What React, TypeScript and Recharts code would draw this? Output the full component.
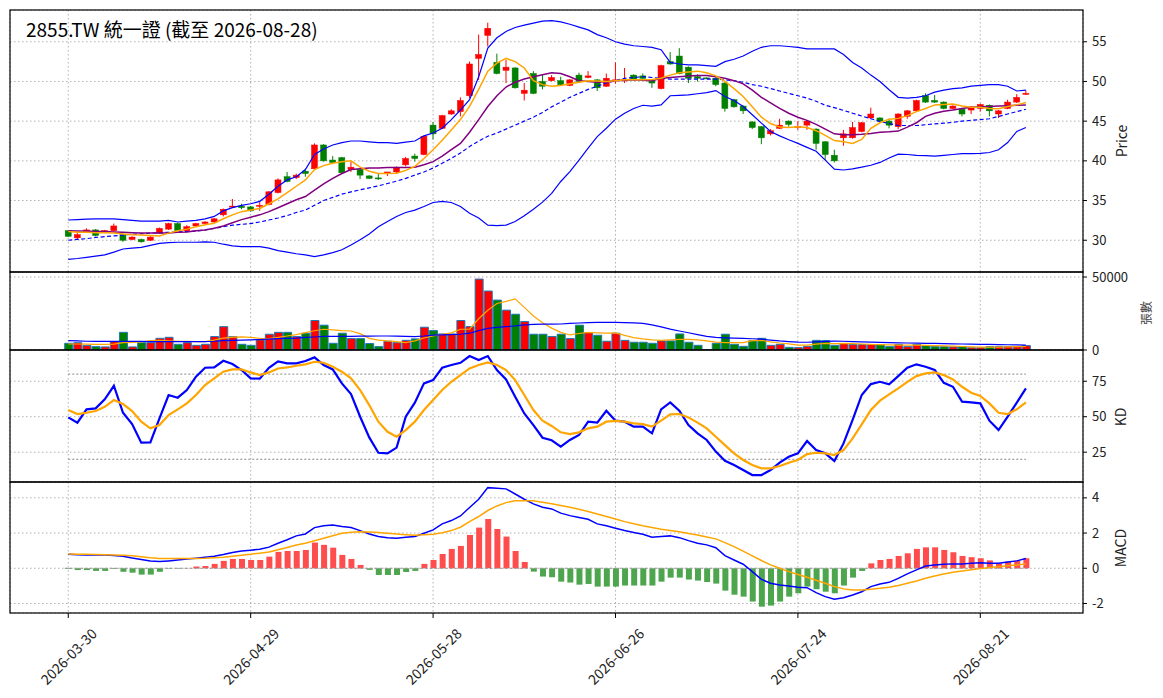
import React from "react";
import {
  ComposedChart,
  Bar,
  Line,
  XAxis,
  YAxis,
  CartesianGrid,
  Cell,
  ReferenceLine,
} from "recharts";

// tick labels on the shared date axis (bar index -> date)
const TICK_POS = [0, 20, 40, 60, 80, 100];
const DATE_LABELS = ["2026-03-30", "2026-04-29", "2026-05-28", "2026-06-26", "2026-07-24", "2026-08-21"];

// daily candles
const OPEN = [
  31.2, 30.3, 31.1, 31.3, 31.0, 31.2, 30.7, 30.1, 30.1, 30.0,
  30.9, 31.4, 32.1, 31.2, 31.8, 32.1, 32.3, 33.2, 34.2, 34.3,
  34.2, 34.3, 34.5, 36.0, 38.0, 37.9, 38.7, 39.0, 42.0, 40.1,
  40.4, 38.9, 38.9, 38.1, 37.85, 38.4, 38.6, 39.5, 40.6, 40.8,
  44.5, 44.1, 45.9, 46.2, 48.2, 52.9, 55.8, 52.4, 51.4, 51.7,
  48.5, 51.0, 50.0, 50.1, 50.1, 49.5, 50.8, 50.5, 50.2, 49.4,
  50.1, 50.1, 50.8, 50.7, 50.2, 49.1, 52.5, 53.2, 51.8, 50.6,
  50.45, 50.4, 49.8, 47.7, 46.9, 44.9, 44.3, 43.4, 44.1, 45.0,
  44.2, 44.5, 44.0, 42.4, 40.7, 42.9, 42.9, 43.7, 45.4, 45.4,
  45.0, 44.3, 45.6, 46.3, 48.2, 47.6, 47.4, 46.6, 46.5, 46.4,
  46.6, 47.0, 45.9, 46.6, 47.4, 48.4,
];
const HIGH = [
  31.3, 30.9, 31.5, 31.4, 31.3, 32.1, 30.8, 30.5, 30.2, 30.5,
  31.6, 32.2, 32.2, 31.9, 32.2, 32.4, 32.8, 34.0, 35.2, 34.6,
  34.3, 34.8, 36.2, 37.8, 38.6, 38.4, 39.0, 42.2, 42.1, 40.6,
  40.5, 39.9, 39.0, 38.2, 38.4, 38.6, 39.3, 40.5, 40.9, 43.2,
  44.9, 45.8, 46.5, 48.0, 52.5, 55.9, 57.4, 53.5, 52.7, 51.8,
  49.8, 51.3, 50.8, 50.8, 50.6, 50.3, 51.1, 51.3, 50.3, 51.0,
  52.4, 51.7, 50.9, 51.0, 50.3, 52.1, 53.7, 54.2, 51.9, 50.9,
  50.5, 50.5, 49.9, 47.8, 47.0, 45.0, 44.4, 44.0, 45.3, 45.1,
  45.0, 45.1, 44.1, 42.5, 41.4, 43.9, 44.9, 44.9, 46.7, 45.5,
  45.3, 46.0, 46.4, 47.7, 48.5, 48.3, 47.5, 47.0, 46.6, 46.9,
  47.2, 47.1, 46.4, 47.7, 48.4, 48.9,
];
const LOW = [
  30.4, 30.1, 31.0, 30.5, 30.9, 31.1, 29.8, 30.0, 29.7, 29.9,
  30.8, 31.3, 31.1, 31.0, 31.7, 32.0, 32.2, 33.0, 34.1, 33.9,
  33.6, 33.7, 34.4, 35.9, 37.3, 37.7, 38.0, 38.9, 39.9, 39.6,
  38.4, 38.6, 37.7, 37.7, 37.6, 38.1, 38.4, 39.3, 39.9, 40.7,
  42.7, 44.0, 45.8, 45.6, 47.9, 50.2, 54.4, 50.9, 49.8, 49.1,
  47.6, 48.4, 49.0, 50.0, 49.5, 49.4, 49.9, 50.4, 48.8, 49.3,
  49.7, 49.8, 50.1, 50.2, 49.2, 49.0, 52.1, 50.9, 49.8, 50.0,
  50.35, 49.4, 46.2, 46.7, 45.9, 44.0, 42.1, 43.2, 44.0, 44.3,
  43.9, 43.9, 41.4, 40.1, 39.8, 41.9, 42.8, 43.6, 45.3, 44.9,
  44.1, 44.0, 45.3, 46.2, 47.3, 47.3, 46.5, 46.5, 45.6, 45.9,
  46.2, 45.6, 45.4, 46.5, 47.3, 48.3,
];
const CLOSE = [
  30.5, 30.7, 31.3, 30.6, 31.2, 31.8, 30.0, 30.4, 29.8, 30.4,
  31.5, 32.1, 31.2, 31.7, 32.1, 32.3, 32.7, 33.9, 34.3, 34.1,
  33.7, 34.4, 36.1, 37.6, 37.4, 38.2, 38.4, 42.0, 40.0, 39.8,
  38.5, 39.2, 38.2, 37.8, 37.8, 38.6, 39.1, 40.3, 40.3, 43.1,
  43.4, 45.7, 46.3, 47.6, 52.2, 53.4, 56.7, 51.0, 51.8, 49.2,
  48.9, 48.5, 49.4, 50.5, 49.6, 50.2, 50.0, 50.7, 49.2, 50.4,
  50.2, 50.2, 50.2, 50.4, 49.8, 52.0, 52.2, 51.0, 50.4, 50.4,
  50.4, 49.6, 46.6, 46.8, 46.3, 44.2, 42.9, 43.8, 44.5, 44.6,
  44.3, 45.0, 42.2, 40.8, 40.0, 43.4, 44.2, 44.8, 45.9, 45.0,
  44.5, 45.9, 46.3, 47.6, 47.4, 47.4, 46.6, 46.9, 45.9, 46.8,
  47.1, 46.3, 46.3, 47.4, 48.0, 48.5,
];

// moving averages and Bollinger bands
const MA5 = [
  31.1, 31.0, 31.0, 30.95, 30.95, 30.9, 30.8, 30.7, 30.65, 30.6,
  30.55, 30.9, 31.2, 31.4, 31.7, 31.95, 32.15, 32.7, 33.2, 33.6,
  33.8, 34.0, 34.6, 35.2, 36.0, 36.8, 37.6, 38.9, 39.4, 39.7,
  39.9, 40.0, 39.2, 38.7, 38.4, 38.4, 38.45, 38.8, 39.3, 40.3,
  41.4, 42.6, 43.9, 45.2, 46.85, 49.0, 51.3, 52.3, 52.9, 52.5,
  51.7, 50.1, 49.6, 49.4, 49.5, 49.7, 49.9, 50.1, 50.05, 50.0,
  50.1, 50.2, 50.2, 50.2, 50.25, 50.4, 50.8, 51.1, 51.2, 51.3,
  51.1, 50.7, 50.0, 49.1, 48.1, 46.8, 45.5, 44.7, 44.25, 44.2,
  44.3, 44.2, 43.8, 43.2, 42.55, 42.4, 42.2, 42.7, 44.1, 44.8,
  45.25, 45.35, 45.7, 46.2, 46.6, 47.05, 47.1, 47.15, 46.9, 46.75,
  46.75, 46.6, 46.55, 46.85, 47.05, 47.35,
];
const MA10 = [
  31.2, 31.15, 31.15, 31.1, 31.1, 31.05, 31.0, 30.95, 30.9, 30.9,
  30.9, 30.9, 31.0, 31.05, 31.2, 31.3, 31.5, 31.8, 32.2, 32.6,
  32.9, 33.2, 33.6, 34.1, 34.6, 35.1, 35.5, 36.3, 37.1, 37.8,
  38.4, 38.9, 39.0, 39.1, 39.1, 39.15, 39.15, 39.15, 39.2, 39.5,
  39.9, 40.6, 41.4, 42.2, 43.6, 45.2, 46.85, 48.2, 49.3, 49.9,
  50.3, 50.6, 50.85, 51.1, 51.0, 50.6, 50.1, 50.0, 49.9, 50.0,
  50.1, 50.15, 50.2, 50.15, 50.1, 50.4, 50.5, 50.6, 50.7, 50.75,
  50.75, 50.6, 50.4, 50.1, 49.7, 48.9, 48.0, 47.3, 46.6, 46.0,
  45.5, 45.1, 44.6, 44.0, 43.4, 43.3, 43.3, 43.35, 43.45, 43.6,
  43.65, 43.75, 44.25, 44.8, 45.6, 46.0, 46.25, 46.4, 46.6, 46.75,
  46.8, 46.85, 46.9, 46.95, 47.0, 47.05,
];
const MA20 = [
  30.0, 30.1, 30.2, 30.35, 30.45, 30.55, 30.65, 30.75, 30.8, 30.9,
  30.95, 31.0, 31.05, 31.1, 31.15, 31.3, 31.5, 31.7, 31.9, 32.0,
  32.1, 32.3, 32.55, 32.8, 33.1, 33.5, 33.8, 34.4, 35.0, 35.4,
  35.8, 36.1, 36.35, 36.6, 36.85, 37.15, 37.45, 37.8, 38.2, 38.6,
  39.1, 39.7, 40.3, 41.0, 41.8, 42.5, 43.1, 43.5, 44.0, 44.5,
  45.0, 45.5, 46.1, 46.8, 47.4, 48.0, 48.5, 49.0, 49.4, 49.8,
  50.1, 50.4, 50.5, 50.6, 50.5, 50.4, 50.3, 50.3, 50.3, 50.3,
  50.3, 50.3, 50.2, 50.1, 49.9, 49.6, 49.4, 49.1, 48.8, 48.5,
  48.2, 47.9, 47.5, 47.0, 46.7, 46.35, 46.0, 45.65, 45.3, 44.95,
  44.7, 44.45, 44.45, 44.45, 44.55, 44.65, 44.75, 44.85, 45.0, 45.1,
  45.2, 45.3, 45.6, 45.9, 46.2, 46.5,
];
const BB_UP = [
  32.55, 32.6, 32.65, 32.7, 32.7, 32.7, 32.6, 32.5, 32.4, 32.4,
  32.4, 32.5, 32.3, 32.4, 32.5, 32.7, 33.0, 33.7, 34.1, 34.4,
  34.6, 34.9, 35.8, 36.8, 37.6, 38.0, 38.9, 40.8, 41.5, 42.0,
  42.3, 42.5, 42.5, 42.4, 42.3, 42.3, 42.2, 42.35, 42.5, 43.15,
  43.5, 44.1, 45.2, 46.4, 47.7, 50.6, 54.2, 55.5, 56.3, 56.8,
  57.1, 57.35, 57.6, 57.65, 57.5, 57.2, 56.85, 56.5, 55.9, 55.5,
  55.0, 54.7, 54.5, 54.4, 54.3, 54.0, 52.4, 52.2, 52.1, 52.1,
  52.0, 51.9, 52.5, 52.8, 53.2, 53.8, 54.3, 54.5, 54.5, 54.4,
  54.3, 54.1, 54.1, 54.1, 54.1, 53.4, 52.4, 51.7, 50.8, 50.0,
  48.95, 48.0, 47.9, 48.0, 48.2, 48.65, 48.9, 49.1, 49.2, 49.4,
  49.5, 49.6, 49.6, 49.4, 48.8, 48.9,
];
const BB_LO = [
  27.6, 27.7, 27.85, 28.0, 28.15, 28.5, 28.9, 29.0, 29.1, 29.35,
  29.6, 29.7, 29.75, 29.75, 29.75, 29.8, 29.75, 29.5, 29.3, 29.2,
  29.2, 29.2, 29.0, 28.7, 28.5, 28.3, 28.15, 27.95, 28.15, 28.45,
  28.8, 29.4, 30.05, 30.8, 31.7, 32.35, 33.0, 33.5, 33.8, 34.25,
  34.75, 34.9, 34.75, 34.25, 33.4, 32.8, 31.9, 31.85, 31.9, 32.35,
  33.1, 33.9, 34.8, 35.9, 37.4, 38.65, 40.1, 41.6, 43.05, 44.1,
  45.25, 46.0, 46.6, 47.0, 46.9, 47.05, 48.2, 48.25, 48.3, 48.45,
  48.6, 48.85, 48.1, 47.6, 46.85, 45.8, 44.75, 43.7, 43.15, 42.65,
  42.2, 41.7, 41.2, 40.1, 38.95, 38.85, 39.0, 39.2, 39.45, 39.8,
  40.35, 40.85, 40.8, 40.7, 40.65, 40.6, 40.7, 40.8, 40.9, 40.9,
  40.95, 41.05, 41.4, 42.3, 43.7, 44.2,
];

// volume (張數) and its averages
const VOLUME = [
  4600, 5000, 3000, 2300, 2100, 5700, 12100, 2100, 5000, 5000,
  8000, 8700, 3900, 5000, 3200, 3900, 9200, 16000, 9200, 3900,
  3200, 6900, 10800, 12100, 12100, 9200, 11500, 20200, 17000, 4600,
  11500, 7800, 7800, 4400, 2300, 6000, 5000, 6600, 7600, 15600,
  13300, 11000, 11000, 20200, 16000, 48600, 40400, 34200, 27300, 24500,
  19500, 10800, 10800, 9200, 10800, 7800, 17000, 11900, 10100, 6000,
  11500, 6600, 5300, 5300, 4600, 6200, 6200, 11000, 5300, 3200,
  300, 4600, 10800, 3900, 2500, 6400, 8000, 3200, 3900, 1800,
  1600, 2500, 6600, 6400, 3200, 4400, 3700, 3700, 3700, 3700,
  2300, 3700, 2300, 3700, 3000, 2300, 2300, 2100, 2300, 1600,
  1600, 2300, 2300, 2300, 2300, 3000,
];
const VOL_MA5 = [
  4100, 4100, 4000, 3900, 3800, 4000, 5000, 5200, 5500, 6400,
  6600, 6300, 6000, 6000, 5700, 5800, 6800, 8200, 8800, 9000,
  8600, 8000, 7800, 8600, 9600, 10500, 11900, 13200, 14200, 13800,
  13300, 13000, 11200, 8000, 6800, 6200, 5800, 5000, 6300, 8200,
  9600, 10800, 11700, 14200, 14300, 21400, 27200, 31900, 33300, 35000,
  29200, 23300, 18600, 15000, 12100, 10300, 11300, 12100, 11800, 11500,
  11700, 10000, 8500, 7600, 6900, 6600, 6900, 7300, 7300, 7000,
  6200, 5400, 5000, 5000, 5000, 6400, 6600, 5600, 4800, 4200,
  3400, 3400, 4000, 4600, 4400, 4500, 4300, 4100, 3800, 3700,
  3500, 3400, 3300, 3300, 3200, 3000, 2800, 2600, 2400, 2200,
  2000, 2000, 2000, 2100, 2300, 2500,
];
const VOL_MA20 = [
  6400, 6200, 6000, 5900, 5900, 5900, 5900, 5900, 5900, 5800,
  5800, 5800, 5800, 5700, 5700, 5800, 6000, 6400, 6600, 6800,
  7000, 7200, 7500, 7800, 8000, 8200, 8600, 8900, 9300, 9300,
  9400, 9400, 9500, 9500, 9600, 9600, 9500, 9300, 9200, 9600,
  10200, 10400, 10600, 10800, 11500, 13300, 14800, 15500, 16000, 16500,
  17200, 17500, 17700, 17700, 17800, 18200, 18500, 18800, 18900, 18900,
  18900, 18800, 18600, 18200, 17200, 15800, 14300, 13000, 11800, 10500,
  9300, 8600, 8300, 8100, 7900, 7700, 7400, 6800, 6200, 5800,
  5400, 5300, 5600, 5900, 6100, 6000, 5800, 5600, 5400, 5200,
  5000, 4900, 4800, 4700, 4600, 4500, 4400, 4200, 4100, 4000,
  3900, 3800, 3700, 3600, 3500, 3400,
];

// KD
const K = [
  49.5, 45.8, 55.2, 55.9, 62.2, 71.8, 52.8, 44.8, 31.7, 31.9,
  48.8, 65.3, 63.4, 68.8, 78.2, 84.5, 84.7, 89.4, 87.1, 82.9,
  77.0, 76.8, 84.5, 89.0, 87.6, 87.6, 89.2, 91.8, 86.4, 83.3,
  73.5, 66.0, 50.0, 35.4, 24.6, 24.2, 28.2, 50.0, 59.9, 73.5,
  75.8, 84.5, 86.4, 88.0, 92.7, 89.9, 92.7, 82.9, 76.3, 64.1,
  52.3, 44.1, 35.2, 33.4, 28.9, 33.6, 37.1, 46.5, 45.8, 54.2,
  47.2, 46.5, 43.0, 43.0, 38.3, 55.2, 60.1, 54.2, 44.1, 38.3,
  33.6, 25.4, 19.0, 16.0, 12.4, 8.9, 8.9, 12.4, 17.6, 21.8,
  24.2, 32.9, 26.5, 24.2, 18.8, 31.2, 47.7, 65.3, 73.0, 74.6,
  72.8, 78.6, 84.5, 86.9, 85.2, 82.9, 73.9, 71.1, 60.6, 60.1,
  59.4, 47.2, 40.6, 50.0, 59.9, 70.0,
];
const D = [
  54.7, 51.9, 52.8, 54.0, 57.0, 61.7, 58.9, 54.0, 46.5, 41.8,
  44.1, 51.2, 55.2, 59.4, 65.3, 72.3, 77.0, 81.7, 83.3, 83.3,
  81.2, 79.3, 81.2, 84.0, 84.7, 85.9, 86.9, 88.7, 88.0, 85.2,
  81.7, 77.0, 68.8, 58.2, 46.5, 39.4, 35.9, 40.6, 46.5, 54.7,
  61.7, 68.8, 74.6, 79.3, 84.0, 86.4, 88.3, 86.4, 82.9, 75.8,
  65.3, 54.7, 47.2, 43.5, 39.0, 37.8, 39.0, 41.8, 43.0, 46.5,
  47.0, 46.5, 45.3, 44.8, 43.0, 47.2, 51.6, 51.9, 49.5, 45.8,
  41.8, 35.9, 30.0, 24.2, 19.5, 16.0, 13.6, 13.6, 15.3, 17.6,
  19.5, 23.7, 24.6, 24.2, 23.0, 26.5, 34.7, 44.6, 54.7, 61.3,
  65.7, 70.0, 74.6, 78.6, 80.5, 81.2, 79.3, 76.3, 71.1, 66.9,
  64.6, 59.4, 52.8, 51.9, 55.2, 60.1,
];

// MACD
const DIF = [
  0.8, 0.77, 0.76, 0.76, 0.75, 0.72, 0.68, 0.58, 0.5, 0.42,
  0.38, 0.42, 0.47, 0.52, 0.57, 0.63, 0.68, 0.78, 0.9, 0.98,
  1.03, 1.08, 1.2, 1.42, 1.62, 1.84, 1.95, 2.31, 2.42, 2.46,
  2.37, 2.31, 2.14, 1.95, 1.8, 1.74, 1.7, 1.76, 1.8, 1.99,
  2.18, 2.52, 2.71, 2.97, 3.45, 3.92, 4.58, 4.55, 4.51, 4.22,
  3.92, 3.66, 3.47, 3.37, 3.13, 2.99, 2.88, 2.78, 2.52, 2.41,
  2.27, 2.14, 2.03, 1.93, 1.76, 1.8, 1.84, 1.74, 1.57, 1.42,
  1.33, 1.17, 0.72, 0.47, 0.23, -0.19, -0.63, -0.85, -0.95, -1.0,
  -1.08, -1.1, -1.38, -1.61, -1.76, -1.67, -1.52, -1.33, -1.04, -0.89,
  -0.8, -0.57, -0.32, -0.09, 0.13, 0.19, 0.23, 0.25, 0.25, 0.28,
  0.32, 0.28, 0.28, 0.36, 0.42, 0.55,
];
const SIGNAL = [
  0.81, 0.8, 0.79, 0.78, 0.77, 0.76, 0.74, 0.71, 0.66, 0.6,
  0.56, 0.55, 0.55, 0.55, 0.56, 0.57, 0.6, 0.63, 0.68, 0.74,
  0.8, 0.86, 0.93, 1.05, 1.18, 1.32, 1.42, 1.56, 1.7, 1.85,
  1.99, 2.04, 2.08, 2.06, 2.03, 1.99, 1.95, 1.91, 1.88, 1.9,
  1.93, 2.02, 2.14, 2.33, 2.65, 2.94, 3.28, 3.54, 3.73, 3.83,
  3.84, 3.83, 3.75, 3.66, 3.56, 3.47, 3.35, 3.22, 3.08, 2.94,
  2.8, 2.65, 2.53, 2.41, 2.31, 2.22, 2.15, 2.08, 1.98, 1.89,
  1.78, 1.67, 1.46, 1.23, 0.97, 0.7, 0.44, 0.19, 0.0, -0.19,
  -0.35, -0.51, -0.68, -0.85, -1.04, -1.17, -1.23, -1.23, -1.19, -1.14,
  -1.08, -0.98, -0.85, -0.72, -0.57, -0.44, -0.32, -0.23, -0.15, -0.09,
  -0.02, 0.04, 0.09, 0.15, 0.19, 0.25,
];
const HIST = [
  -0.04, -0.1, -0.1, -0.15, -0.15, -0.04, -0.2, -0.25, -0.36, -0.36,
  -0.2, -0.03, -0.02, 0.01, 0.1, 0.13, 0.25, 0.42, 0.53, 0.53,
  0.47, 0.47, 0.66, 0.93, 0.98, 0.98, 1.04, 1.46, 1.33, 1.17,
  0.76, 0.53, 0.19, -0.09, -0.38, -0.38, -0.38, -0.21, -0.15, 0.25,
  0.47, 0.81, 1.1, 1.27, 1.89, 2.31, 2.8, 2.23, 1.8, 0.98,
  0.36, -0.19, -0.47, -0.51, -0.76, -0.81, -0.93, -0.89, -1.04, -1.04,
  -1.04, -0.98, -0.98, -0.98, -0.98, -0.76, -0.53, -0.53, -0.64, -0.7,
  -0.78, -0.87, -1.27, -1.5, -1.61, -1.89, -2.18, -2.12, -1.89, -1.61,
  -1.42, -1.04, -1.19, -1.33, -1.42, -0.98, -0.53, -0.15, 0.28, 0.47,
  0.53, 0.7, 0.85, 1.1, 1.19, 1.19, 1.04, 0.91, 0.7, 0.63,
  0.57, 0.45, 0.28, 0.38, 0.44, 0.57,
];

const rows = OPEN.map((o, i) => ({
  i,
  o,
  h: HIGH[i],
  l: LOW[i],
  c: CLOSE[i],
  hl: [LOW[i], HIGH[i]],
  ma5: MA5[i],
  ma10: MA10[i],
  ma20: MA20[i],
  up: BB_UP[i],
  lo: BB_LO[i],
  vol: VOLUME[i],
  vma5: VOL_MA5[i],
  vma20: VOL_MA20[i],
  k: K[i],
  d: D[i],
  dif: DIF[i],
  sig: SIGNAL[i],
  hist: HIST[i],
}));

const W = 1163;
const AXIS_W = 50;
const MARGIN = { top: 0, bottom: 0, left: 10, right: W - 1083 - AXIS_W };
const X_DOMAIN = [-6.39, 111.26];
const FONT = "'Noto Sans CJK TC', 'Noto Sans', sans-serif";
const GRID = "#b0b0b0";
const RED = "#ff0000";
const GREEN = "#008000";
const TICK_STYLE = { fontSize: 13, fill: "#222", fontFamily: FONT };

const Candle = (props: any) => {
  const { x, y, width, height, payload } = props;
  const top = Math.min(y, y + height);
  const span = Math.abs(height);
  const { o, h, l, c } = payload;
  const color = c >= o ? RED : GREEN;
  const cx = x + width / 2;
  const ppu = span / (h - l);
  const yO = top + (h - o) * ppu;
  const yC = top + (h - c) * ppu;
  return (
    <g>
      <line x1={cx} x2={cx} y1={top} y2={top + span} stroke={color} strokeWidth={1} />
      <rect
        x={cx - 3}
        y={Math.min(yO, yC)}
        width={6}
        height={Math.max(Math.abs(yO - yC), 1)}
        fill={color}
        stroke={color}
        strokeWidth={0.5}
      />
    </g>
  );
};

const DateTick = (props: any) => {
  const { x, y, payload } = props;
  const label = DATE_LABELS[TICK_POS.indexOf(payload.value)] ?? "";
  const cy = y + 36;
  return (
    <text
      x={x}
      y={cy}
      textAnchor="middle"
      dominantBaseline="central"
      transform={`rotate(-45 ${x} ${cy})`}
      fontSize={14}
      fill="#222"
      fontFamily={FONT}
    >
      {label}
    </text>
  );
};

const xAxis = (hide: boolean) =>
  hide ? (
    <XAxis dataKey="i" type="number" domain={X_DOMAIN} ticks={TICK_POS} allowDataOverflow hide />
  ) : (
    <XAxis
      dataKey="i"
      type="number"
      domain={X_DOMAIN}
      ticks={TICK_POS}
      allowDataOverflow
      height={85}
      axisLine={false}
      tickLine={{ stroke: "#000" }}
      tickSize={5}
      tick={<DateTick />}
      interval={0}
    />
  );

const yAxis = (domain: number[], ticks: number[]) => (
  <YAxis
    orientation="right"
    width={AXIS_W}
    domain={domain}
    ticks={ticks}
    allowDataOverflow
    axisLine={false}
    tickLine={{ stroke: "#000" }}
    tickSize={4}
    tickMargin={5}
    tick={TICK_STYLE}
    interval={0}
  />
);

const grid = <CartesianGrid stroke={GRID} strokeDasharray="1.5 2.5" />;

const panel = (top: number, height: number, child: React.ReactNode) => (
  <div style={{ position: "absolute", left: 0, top, width: W, height }}>{child}</div>
);

export default function App() {
  return (
    <div style={{ position: "absolute", left: 0, top: 0, width: W, height: 698, background: "#fff", fontFamily: FONT }}>
      <style>{".recharts-surface{overflow:visible}"}</style>
      {panel(
        10,
        262,
        <ComposedChart width={W} height={262} data={rows} margin={MARGIN}>
          {grid}
          {xAxis(true)}
          {yAxis([26.0, 59.0], [30, 35, 40, 45, 50, 55])}
          <Line dataKey="up" stroke="#0000ff" strokeWidth={1.2} dot={false} activeDot={false} isAnimationActive={false} />
          <Line dataKey="lo" stroke="#0000ff" strokeWidth={1.2} dot={false} activeDot={false} isAnimationActive={false} />
          <Line dataKey="ma20" stroke="#0000ff" strokeWidth={1.2} strokeDasharray="4 2.5" dot={false} activeDot={false} isAnimationActive={false} />
          <Bar dataKey="hl" barSize={7} shape={<Candle />} isAnimationActive={false} />
          <Line dataKey="ma10" stroke="#800080" strokeWidth={1.5} dot={false} activeDot={false} isAnimationActive={false} />
          <Line dataKey="ma5" stroke="#ffa500" strokeWidth={1.5} dot={false} activeDot={false} isAnimationActive={false} />
        </ComposedChart>
      )}
      {panel(
        272,
        78,
        <ComposedChart width={W} height={78} data={rows} margin={MARGIN}>
          {grid}
          {xAxis(true)}
          {yAxis([0, 53440], [0, 50000])}
          <Bar dataKey="vol" barSize={8} stroke="#1f77b4" strokeWidth={1} isAnimationActive={false}>
            {rows.map((r) => (
              <Cell key={r.i} fill={r.c >= r.o ? RED : GREEN} />
            ))}
          </Bar>
          <Line dataKey="vma5" stroke="#ffa500" strokeWidth={1.2} dot={false} activeDot={false} isAnimationActive={false} />
          <Line dataKey="vma20" stroke="#0000ff" strokeWidth={1.2} dot={false} activeDot={false} isAnimationActive={false} />
        </ComposedChart>
      )}
      {panel(
        350,
        132,
        <ComposedChart width={W} height={132} data={rows} margin={MARGIN}>
          {grid}
          {xAxis(true)}
          {yAxis([4, 97], [25, 50, 75])}
          <ReferenceLine segment={[{ x: 0, y: 80 }, { x: 105, y: 80 }]} stroke="#888" strokeDasharray="2 2" />
          <ReferenceLine segment={[{ x: 0, y: 20 }, { x: 105, y: 20 }]} stroke="#888" strokeDasharray="2 2" />
          <Line dataKey="k" stroke="#0000ff" strokeWidth={2.2} dot={false} activeDot={false} isAnimationActive={false} />
          <Line dataKey="d" stroke="#ffa500" strokeWidth={2.2} dot={false} activeDot={false} isAnimationActive={false} />
        </ComposedChart>
      )}
      {panel(
        482,
        216,
        <ComposedChart width={W} height={216} data={rows} margin={MARGIN}>
          {grid}
          {xAxis(false)}
          {yAxis([-2.54, 4.9], [-2, 0, 2, 4])}
          <ReferenceLine segment={[{ x: -0.4, y: 0 }, { x: 105.4, y: 0 }]} stroke="#999" strokeDasharray="3 2" />
          <Bar dataKey="hist" barSize={6} isAnimationActive={false}>
            {rows.map((r) => (
              <Cell key={r.i} fill={r.hist >= 0 ? "#ff4d4d" : "#4da64d"} />
            ))}
          </Bar>
          <Line dataKey="dif" stroke="#0000ff" strokeWidth={1.5} dot={false} activeDot={false} isAnimationActive={false} />
          <Line dataKey="sig" stroke="#ffa500" strokeWidth={1.5} dot={false} activeDot={false} isAnimationActive={false} />
        </ComposedChart>
      )}
      <svg
        width={W}
        height={698}
        style={{ position: "absolute", left: 0, top: 0, pointerEvents: "none" }}
        fontFamily={FONT}
      >
        <rect x={10} y={10} width={1073} height={262} fill="none" stroke="#000" strokeWidth={1.2} />
        <rect x={10} y={272} width={1073} height={78} fill="none" stroke="#000" strokeWidth={1.2} />
        <rect x={10} y={350} width={1073} height={132} fill="none" stroke="#000" strokeWidth={1.2} />
        <rect x={10} y={482} width={1073} height={131} fill="none" stroke="#000" strokeWidth={1.2} />
        <text x={26} y={37} fontSize={19} fill="#000">
          2855.TW 統一證 (截至 2026-08-28)
        </text>
        <text x={1121} y={141} fontSize={14} fill="#222" textAnchor="middle" dominantBaseline="central" transform="rotate(-90 1121 141)">
          Price
        </text>
        <text x={1145} y={313} fontSize={12} fill="#444" textAnchor="middle" dominantBaseline="central" transform="rotate(-90 1145 313)">
          張數
        </text>
        <text x={1120} y={417} fontSize={14} fill="#222" textAnchor="middle" dominantBaseline="central" transform="rotate(-90 1120 417)">
          KD
        </text>
        <text x={1120} y={548} fontSize={14} fill="#222" textAnchor="middle" dominantBaseline="central" transform="rotate(-90 1120 548)">
          MACD
        </text>
      </svg>
    </div>
  );
}
